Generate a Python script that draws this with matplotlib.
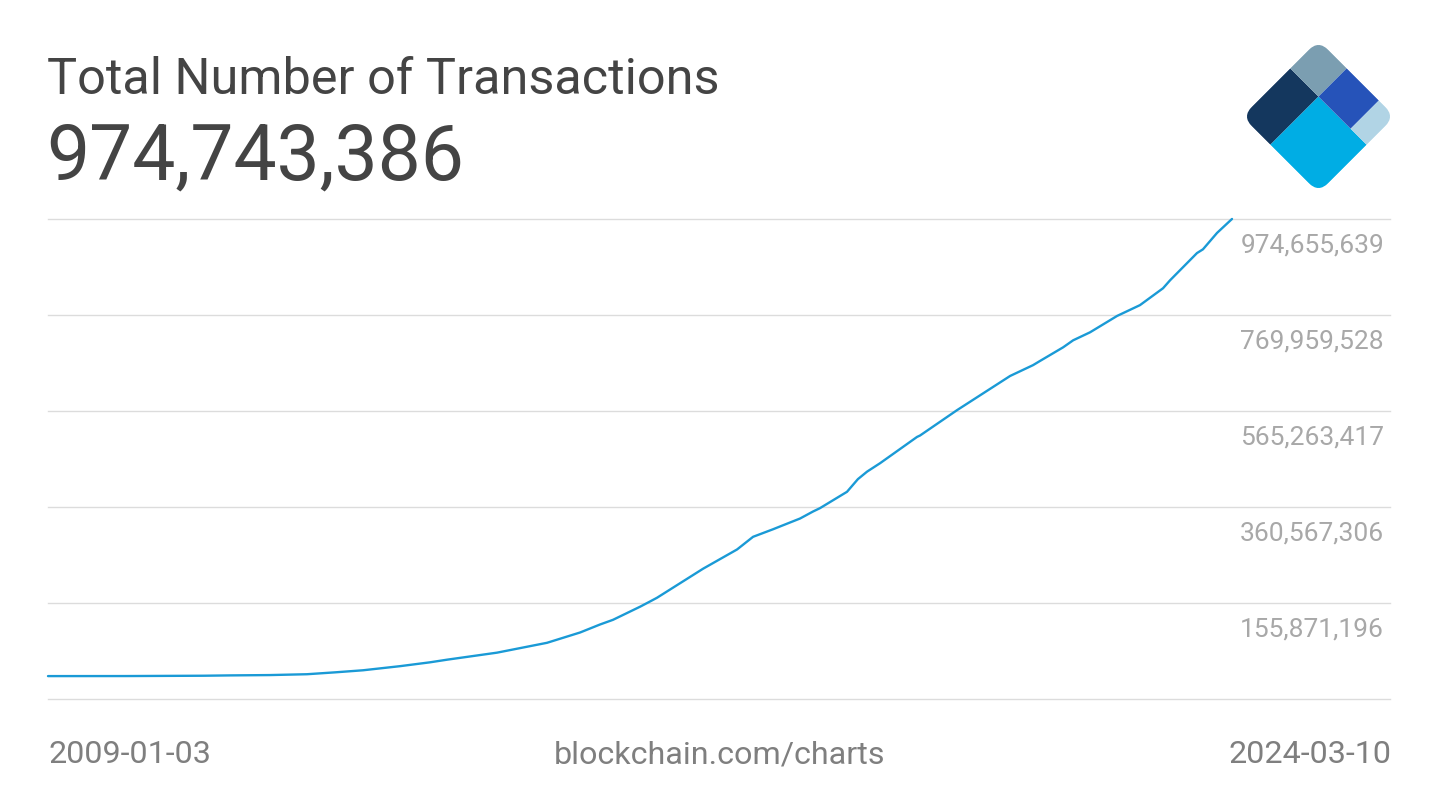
import numpy as np
import pandas as pd
import matplotlib
matplotlib.use('Agg')
import matplotlib.pyplot as plt
import matplotlib.transforms as mtransforms
from matplotlib.patches import Rectangle, FancyBboxPatch

plt.rcParams['font.family'] = ['Roboto', 'DejaVu Sans']

# data (cumulative transactions, millions)
dates = ['2009-01-03', '2010-01-03', '2011-01-03', '2011-05-05', '2011-11-08',
         '2012-04-30', '2012-09-08', '2013-01-17', '2013-07-10', '2013-11-27',
         '2014-02-15', '2014-10-07', '2015-05-29', '2015-10-31', '2016-02-01',
         '2016-04-02', '2016-08-07', '2016-09-22', '2016-10-25', '2017-05-29',
         '2017-11-04', '2018-01-18', '2018-04-21', '2018-05-24', '2018-08-26',
         '2018-10-26', '2018-11-27', '2019-04-03', '2019-05-24', '2019-07-06',
         '2019-09-05', '2020-02-25', '2020-03-10', '2020-08-30', '2021-05-06',
         '2021-08-21', '2021-09-23', '2022-01-09', '2022-02-25', '2022-05-15',
         '2022-09-19', '2023-01-04', '2023-02-06', '2023-04-22', '2023-05-25',
         '2023-09-28', '2023-10-26', '2023-12-31', '2024-03-10']
totals_m = [0.0, 0.1, 0.8, 1.5, 2.2,
            4.0, 8.0, 12.4, 21.2, 29.4,
            35.0, 50.0, 71.0, 93.0, 110.0,
            120.0, 148.0, 159.0, 167.0, 229.0,
            270.0, 297.0, 313.0, 319.0, 336.0,
            351.0, 358.0, 393.0, 420.0, 436.0,
            454.0, 510.0, 513.0, 567.0, 640.0,
            663.0, 672.0, 701.0, 716.0, 733.0,
            768.0, 791.0, 802.0, 827.0, 844.0,
            902.0, 910.0, 945.0, 974.743386]

ytick_values = [-48824916, 155871196, 360567306, 565263417, 769959528, 974655639]
ytick_labels = ['', '155,871,196', '360,567,306', '565,263,417', '769,959,528', '974,655,639']

title = 'Total Number of Transactions'
headline = '974,743,386'
start_label = '2009-01-03'
end_label = '2024-03-10'
source = 'blockchain.com/charts'

W, H = 1440, 810


def fpos(x, y):
    return x / W, 1 - y / H


fig = plt.figure(figsize=(W / 100, H / 100), dpi=100)
fig.patch.set_facecolor('white')

# plot area 48..1390 px wide, 219..699 px tall; data ends at x=1232
left, right, top, bottom = 48, 1390, 219, 699
ax = fig.add_axes([left / W, 1 - bottom / H, (right - left) / W, (bottom - top) / H])

t = pd.to_datetime(dates)
d0, d1 = t[0], t[-1]
span = (d1 - d0) * ((right - left) / (1232 - left))
ax.plot(t, np.array(totals_m) * 1e6, color='#1a9ad6', lw=1.7, solid_joinstyle='round',
        solid_capstyle='round', clip_on=False)
ax.set_xlim(d0, d0 + span)
ax.set_ylim(ytick_values[0], ytick_values[-1])

for v in ytick_values:
    ax.axhline(v, color='#dcdcdc', lw=1.0, zorder=0, clip_on=False)

label_tr = mtransforms.offset_copy(ax.get_yaxis_transform(), fig=fig, y=-34, units='dots')
for v, lab in zip(ytick_values, ytick_labels):
    if lab:
        ax.text((1384 - left) / (right - left), v, lab, transform=label_tr,
                ha='right', va='baseline', fontsize=19, color='#a8a8a8')

ax.set_xticks([])
ax.set_yticks([])
for s in ax.spines.values():
    s.set_visible(False)

# header
fig.text(*fpos(47, 94), title, fontsize=36.3, color='#444444', va='baseline', ha='left')
fig.text(*fpos(46, 180), headline, fontsize=55.3, color='#444444', va='baseline', ha='left')

# footer
fig.text(*fpos(48, 763), start_label, fontsize=23.2, color='#7f7f7f', va='baseline', ha='left')
fig.text(*fpos(720, 763), source, fontsize=23.2, color='#7f7f7f', va='baseline', ha='center')
fig.text(*fpos(1391, 763), end_label, fontsize=23.2, color='#7f7f7f', va='baseline', ha='right')

# logo: rotated rounded square split in five parts
lx0, ly0, lx1, ly1 = 1242, 40, 1395, 193
lax = fig.add_axes([lx0 / W, 1 - ly1 / H, (lx1 - lx0) / W, (ly1 - ly0) / H])
lax.set_xlim(0, 100 * np.sqrt(2))
lax.set_ylim(-50 * np.sqrt(2), 50 * np.sqrt(2))
lax.axis('off')
r = 1 / np.sqrt(2)
rot = mtransforms.Affine2D(np.array([[r, r, 0], [r, -r, 0], [0, 0, 1]])) + lax.transData
outline = FancyBboxPatch((0, 0), 100, 100, boxstyle='round,pad=0,rounding_size=13',
                         transform=rot, facecolor='none', edgecolor='none')
lax.add_patch(outline)
pieces = [((0, 0), 63, 37, '#14375e'),
          ((63, 0), 37, 37, '#7b9eb1'),
          ((0, 37), 63, 63, '#00ade4'),
          ((63, 37), 37, 42, '#2653b9'),
          ((63, 79), 37, 21, '#b1d4e5')]
for xy, w, h, c in pieces:
    p = Rectangle(xy, w, h, transform=rot, facecolor=c, edgecolor='none')
    lax.add_patch(p)
    p.set_clip_path(outline)

fig.savefig('out.png', dpi=100)
